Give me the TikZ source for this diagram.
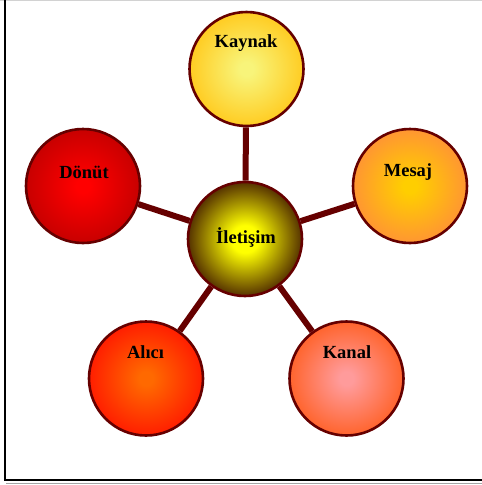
\documentclass[tikz,border=0pt]{standalone}
\usepackage{fontspec}
\setmainfont{Liberation Serif}
\makeatletter
\pgfdeclareradialshading[tikz@radial@inner,tikz@radial@outer]{fullball}{\pgfpointorigin}{color(0bp)=(tikz@radial@inner); color(3bp)=(tikz@radial@inner); color(25bp)=(tikz@radial@outer); color(50bp)=(tikz@radial@outer)}
\pgfdeclareradialshading[tikz@radial@inner,tikz@radial@outer]{centerball}{\pgfpointorigin}{color(0bp)=(tikz@radial@inner); color(6bp)=(tikz@radial@inner); color(25bp)=(tikz@radial@outer); color(50bp)=(tikz@radial@outer)}
\makeatother
\definecolor{maroon}{RGB}{102,0,0}
\definecolor{kayIn}{RGB}{248,244,122}
\definecolor{kayOut}{RGB}{255,204,34}
\definecolor{iletIn}{RGB}{255,255,0}
\definecolor{iletOut}{RGB}{85,50,0}
\definecolor{mesIn}{RGB}{255,206,0}
\definecolor{mesOut}{RGB}{255,150,50}
\definecolor{donIn}{RGB}{255,0,0}
\definecolor{donOut}{RGB}{200,0,0}
\definecolor{aliIn}{RGB}{255,105,0}
\definecolor{aliOut}{RGB}{255,30,0}
\definecolor{kanIn}{RGB}{255,155,155}
\definecolor{kanOut}{RGB}{255,100,45}
\tikzset{
  ball/.style 2 args={circle, minimum size=114pt, inner sep=0pt, draw=maroon, line width=2.6pt, inner color=#1, outer color=#2, shading=fullball},
  hubball/.style 2 args={ball={#1}{#2}, shading=centerball},
  lbl/.style={font=\fontsize{18.5}{20}\selectfont\bfseries, inner sep=0pt},
  link/.style={draw=maroon, line width=6pt}
}
\begin{document}
\begin{tikzpicture}[x=1pt,y=-1pt]
\useasboundingbox (0,0) rectangle (482,485);
\fill[white] (0,0) rectangle (482,485);
% frame
\draw[gray!35, line width=1pt] (0,0.5) -- (482,0.5);
\draw[black, line width=2pt] (5,0) -- (5,480) -- (482,480);
\draw[gray!70, line width=1pt] (6,483) -- (482,483);
% circles
\node[hubball={iletIn}{iletOut}] (ilet) at (245,239) {};
\node[ball={kayIn}{kayOut}] (kay) at (246.5,69) {};
\node[ball={mesIn}{mesOut}] (mes) at (410,186) {};
\node[ball={donIn}{donOut}] (don) at (83,186) {};
\node[ball={aliIn}{aliOut}] (ali) at (146,378.5) {};
\node[ball={kanIn}{kanOut}] (kan) at (346.5,378.5) {};
% links
\draw[link] (ilet) -- (kay);
\draw[link] (ilet) -- (mes);
\draw[link] (ilet) -- (don);
\draw[link] (ilet) -- (ali);
\draw[link] (ilet) -- (kan);
% labels
\node[lbl] (tilet) at (246,237) {İletişim};
\node[lbl] (tkay) at (246,43) {Kaynak};
\node[lbl] (tmes) at (408,172) {Mesaj};
\node[lbl] (tdon) at (84,172) {Dönüt};
\node[lbl] (tali) at (145.5,352) {Alıcı};
\node[lbl] (tkan) at (347,352) {Kanal};
\end{tikzpicture}
\end{document}
